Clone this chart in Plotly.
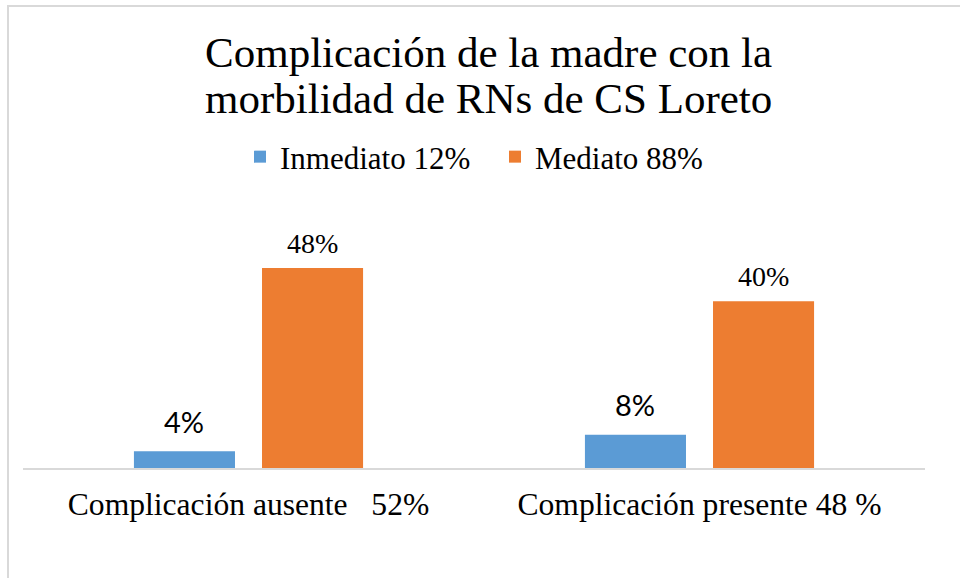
import plotly.graph_objects as go

categories = ["Complicación ausente   52%", "Complicación presente 48 %"]
series_names = ["Inmediato 12%", "Mediato 88%"]
inmediato = [4, 8]
mediato = [48, 40]
labels_inmediato = ["4%", "8%"]
labels_mediato = ["48%", "40%"]
title_lines = ["Complicación de la madre con la", "morbilidad de RNs de CS Loreto"]

BLUE = "#5b9bd5"
ORANGE = "#ed7d31"
SERIF = "Liberation Serif, Times New Roman, serif"
SANS = "Lato, Liberation Sans, sans-serif"

# plot area in pixels
L, R, T, B = 23, 35, 218, 110
W, H = 960, 578
PW, PH = W - L - R, H - T - B


def px_to_paper_y(py):
    return (H - B - py) / PH


def px_to_paper_x(px):
    return (px - L) / PW


fig = go.Figure()
fig.add_trace(go.Bar(name=series_names[0], x=categories, y=inmediato,
                     marker=dict(color=BLUE, line=dict(width=0))))
fig.add_trace(go.Bar(name=series_names[1], x=categories, y=mediato,
                     marker=dict(color=ORANGE, line=dict(width=0))))

bargap = 0.432
bargroupgap = 0.211
slot = (1 - bargap) / 2
offsets = [-slot / 2, slot / 2]

annotations = []
for i in range(len(categories)):
    annotations.append(dict(x=i + offsets[0], y=inmediato[i], xref="x", yref="y",
                            text=labels_inmediato[i], showarrow=False,
                            yanchor="middle", yshift=30,
                            font=dict(family=SANS, size=29, color="#000000")))
    annotations.append(dict(x=i + offsets[1], y=mediato[i], xref="x", yref="y",
                            text=labels_mediato[i], showarrow=False,
                            yanchor="middle", yshift=25,
                            font=dict(family=SERIF, size=28, color="#000000")))

for line, py in zip(title_lines, [52, 98]):
    annotations.append(dict(x=px_to_paper_x(488.5), y=px_to_paper_y(py),
                            xref="paper", yref="paper", text=line, showarrow=False,
                            xanchor="center", yanchor="middle",
                            font=dict(family=SERIF, size=43, color="#000000")))

fig.update_layout(
    width=W, height=H,
    paper_bgcolor="white", plot_bgcolor="white",
    margin=dict(l=L, r=R, t=T, b=B),
    barmode="group", bargap=bargap, bargroupgap=bargroupgap,
    legend=dict(orientation="h", x=px_to_paper_x(495), xanchor="center", xref="paper",
                y=px_to_paper_y(157), yanchor="middle",
                font=dict(family=SERIF, size=31, color="#000000"),
                itemwidth=30, entrywidth=210, traceorder="normal"),
    showlegend=True,
    annotations=annotations,
    xaxis=dict(showline=True, linecolor="#d9d9d9", linewidth=2, ticks="",
               tickfont=dict(family=SERIF, size=31.6, color="#000000"),
               ticklabelstandoff=7, showgrid=False, zeroline=False),
    yaxis=dict(range=[0, 60], visible=False, showgrid=False, zeroline=False),
    shapes=[dict(type="rect", xref="paper", yref="paper",
                 x0=px_to_paper_x(8), x1=1.1, y0=-0.6, y1=px_to_paper_y(6),
                 line=dict(color="#d9d9d9", width=2), fillcolor="rgba(0,0,0,0)",
                 layer="below")],
)

fig.write_html("out.html", config={"displayModeBar": False},
               post_script="document.body.style.margin='0';")
